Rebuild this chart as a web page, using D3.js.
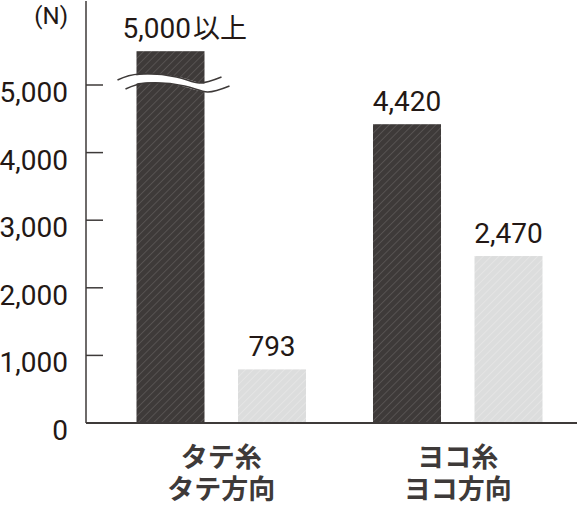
<!DOCTYPE html>
<html lang="ja">
<head>
  <meta charset="UTF-8">
  <title>引張強さ</title>
  <style>
    html, body { margin: 0; background: #fff; overflow: hidden; }
    svg { display: block; }
    .num { font-family: Roboto, "Noto Sans", sans-serif; fill: #231815; }
    .cat { font-family: "Noto Sans CJK JP", sans-serif; font-weight: 700; fill: #3e3a39; }
  </style>
</head>
<body>
  <div id="chart"></div>
  <script src="https://cdn.jsdelivr.net/npm/d3@7"></script>
  <script>
    // data
    const groups = ['タテ', 'ヨコ']
    const groupLines = [['タテ糸', 'タテ方向'], ['ヨコ糸', 'ヨコ方向']]
    const series = ['糸', '方向']
    const values = [[5500, 793], [4420, 2470]]   // first bar is cut (over 5,000)
    const valueLabels = [['5,000以上', '793'], ['4,420', '2,470']]
    const yTicks = [0, 1000, 2000, 3000, 4000, 5000]
    const unit = '(N)'

    const width = 577, height = 509
    const axisX = 86, baseY = 423, topY = 85

    const y = d3.scaleLinear().domain([0, 5000]).range([baseY, topY])
    const x0 = d3.scaleBand().domain(groups).range([103, 576]).padding(0)
    const x1 = d3.scaleBand().domain(series).range([0, x0.bandwidth()]).padding(0.33)

    const svg = d3.select('#chart').append('svg')
      .attr('width', width).attr('height', height)

    // hatch patterns
    const defs = svg.append('defs')
    const hatch = (id, bg, line) => {
      const p = defs.append('pattern')
        .attr('id', id)
        .attr('patternUnits', 'userSpaceOnUse')
        .attr('width', 5.5).attr('height', 5.5)
        .attr('patternTransform', 'rotate(45)')
      p.append('rect').attr('width', 5.5).attr('height', 5.5).attr('fill', bg)
      p.append('line').attr('x1', 0).attr('y1', 0).attr('x2', 0).attr('y2', 5.5)
        .attr('stroke', line).attr('stroke-width', 1.1)
    }
    hatch('hDark', '#3e3a39', '#6a6564')
    hatch('hLight', '#dcdddd', '#ebebeb')
    const fills = ['url(#hDark)', 'url(#hLight)']

    // bars
    const g = svg.append('g')
    groups.forEach((grp, gi) => {
      series.forEach((s, si) => {
        const bx = x0(grp) + x1(s)
        const v = values[gi][si]
        g.append('rect')
          .attr('x', bx).attr('y', y(v))
          .attr('width', x1.bandwidth()).attr('height', baseY - y(v))
          .attr('fill', fills[si])

        const lbl = g.append('text').attr('class', 'num')
          .attr('font-size', 28)
          .attr('y', y(v) - 13)
        if (gi === 0 && si === 0) {
          lbl.attr('x', bx - 14).attr('text-anchor', 'start')
          lbl.append('tspan').text(valueLabels[gi][si].replace('以上', ''))
          lbl.append('tspan').attr('font-family', '"Noto Sans CJK JP", sans-serif')
            .attr('font-size', 27).attr('dx', 2).text('以上')
        } else {
          lbl.attr('x', bx + x1.bandwidth() / 2).attr('text-anchor', 'middle')
            .text(valueLabels[gi][si])
        }
      })
    })

    // break mark on the cut bar
    const cx = x0(groups[0]) + x1(series[0]) + x1.bandwidth() / 2
    const cy = y(5000)
    const wave = [[-53, -5], [-31, -11], [6, -8], [29, -2], [51, -8]]
    const waveLine = d3.line().curve(d3.curveNatural)
    const shift = (dx, dy) => wave.map(([a, b]) => [cx + a + dx, cy + b + dy])
    svg.append('path').attr('d', waveLine(shift(4, 4.5)))
      .attr('fill', 'none').attr('stroke', '#fff').attr('stroke-width', 8)
    ;[[0, 0], [8, 9]].forEach(([dx, dy]) => {
      svg.append('path').attr('d', waveLine(shift(dx, dy)))
        .attr('fill', 'none').attr('stroke', '#3e3a39').attr('stroke-width', 1.5)
    })

    // y axis
    svg.append('line')
      .attr('x1', axisX).attr('x2', axisX).attr('y1', 1).attr('y2', baseY)
      .attr('stroke', '#3e3a39').attr('stroke-width', 1.5)
    svg.append('line')
      .attr('x1', axisX).attr('x2', width).attr('y1', baseY).attr('y2', baseY)
      .attr('stroke', '#3e3a39').attr('stroke-width', 2)

    const ticks = svg.append('g')
    yTicks.forEach(t => {
      if (t > 0) {
        ticks.append('line')
          .attr('x1', axisX).attr('x2', axisX + 17)
          .attr('y1', y(t)).attr('y2', y(t))
          .attr('stroke', '#3e3a39').attr('stroke-width', 1.5)
      }
      ticks.append('text').attr('class', 'num')
        .attr('x', 68).attr('y', y(t) + 17)
        .attr('text-anchor', 'end').attr('font-size', 28)
        .text(d3.format(',')(t))
    })

    svg.append('text').attr('class', 'num')
      .attr('x', 68).attr('y', 24).attr('text-anchor', 'end')
      .attr('font-size', 24).text(unit)

    // category labels (two lines in one text)
    groups.forEach((grp, gi) => {
      const cxg = x0(grp) + x0.bandwidth() / 2
      const t = svg.append('text').attr('class', 'cat')
        .attr('x', cxg).attr('y', 467)
        .attr('text-anchor', 'middle')
        .attr('font-size', 27)
      groupLines[gi].forEach((txt, li) => {
        t.append('tspan').attr('x', cxg).attr('dy', li === 0 ? 0 : 32).text(txt)
      })
    })
  </script>
</body>
</html>
